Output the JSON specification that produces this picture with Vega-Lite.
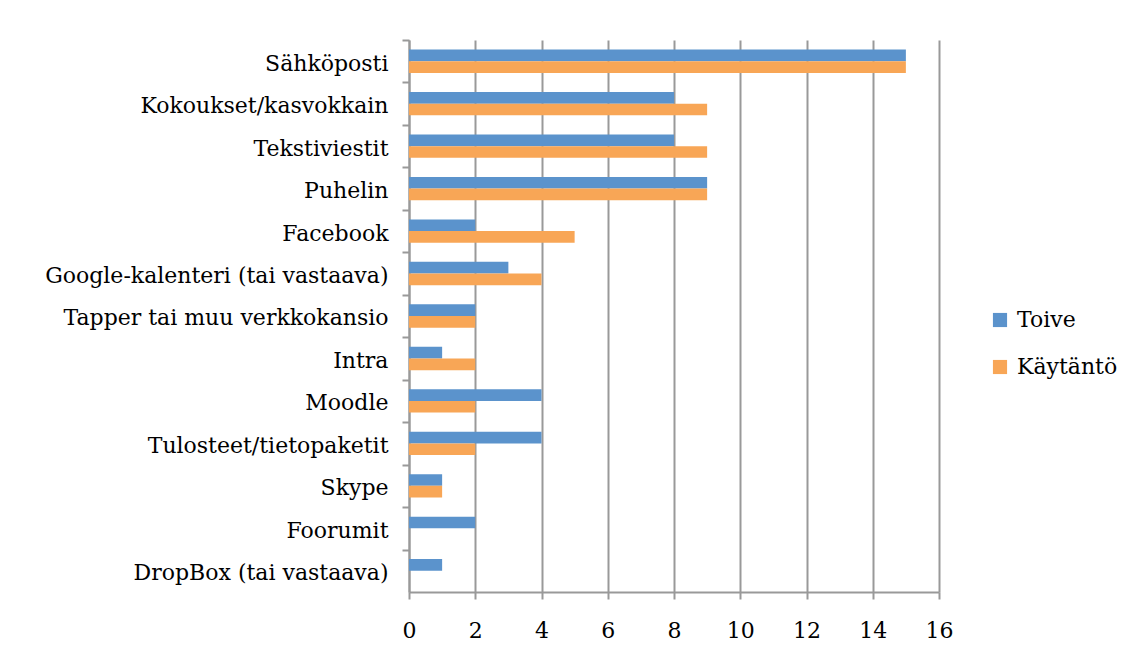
{
  "$schema": "https://vega.github.io/schema/vega-lite/v6.json",
  "width": 530,
  "height": 552,
  "autosize": "none",
  "padding": {"left": 409, "top": 40, "right": 205, "bottom": 74},
  "background": "white",
  "data": {
    "values": [
      {"kanava": "Sähköposti", "sarja": "Toive", "arvo": 15},
      {"kanava": "Sähköposti", "sarja": "Käytäntö", "arvo": 15},
      {"kanava": "Kokoukset/kasvokkain", "sarja": "Toive", "arvo": 8},
      {"kanava": "Kokoukset/kasvokkain", "sarja": "Käytäntö", "arvo": 9},
      {"kanava": "Tekstiviestit", "sarja": "Toive", "arvo": 8},
      {"kanava": "Tekstiviestit", "sarja": "Käytäntö", "arvo": 9},
      {"kanava": "Puhelin", "sarja": "Toive", "arvo": 9},
      {"kanava": "Puhelin", "sarja": "Käytäntö", "arvo": 9},
      {"kanava": "Facebook", "sarja": "Toive", "arvo": 2},
      {"kanava": "Facebook", "sarja": "Käytäntö", "arvo": 5},
      {"kanava": "Google-kalenteri (tai vastaava)", "sarja": "Toive", "arvo": 3},
      {"kanava": "Google-kalenteri (tai vastaava)", "sarja": "Käytäntö", "arvo": 4},
      {"kanava": "Tapper tai muu verkkokansio", "sarja": "Toive", "arvo": 2},
      {"kanava": "Tapper tai muu verkkokansio", "sarja": "Käytäntö", "arvo": 2},
      {"kanava": "Intra", "sarja": "Toive", "arvo": 1},
      {"kanava": "Intra", "sarja": "Käytäntö", "arvo": 2},
      {"kanava": "Moodle", "sarja": "Toive", "arvo": 4},
      {"kanava": "Moodle", "sarja": "Käytäntö", "arvo": 2},
      {"kanava": "Tulosteet/tietopaketit", "sarja": "Toive", "arvo": 4},
      {"kanava": "Tulosteet/tietopaketit", "sarja": "Käytäntö", "arvo": 2},
      {"kanava": "Skype", "sarja": "Toive", "arvo": 1},
      {"kanava": "Skype", "sarja": "Käytäntö", "arvo": 1},
      {"kanava": "Foorumit", "sarja": "Toive", "arvo": 2},
      {"kanava": "Foorumit", "sarja": "Käytäntö", "arvo": 0},
      {"kanava": "DropBox (tai vastaava)", "sarja": "Toive", "arvo": 1},
      {"kanava": "DropBox (tai vastaava)", "sarja": "Käytäntö", "arvo": 0}
    ]
  },
  "mark": {"type": "bar"},
  "encoding": {
    "y": {
      "field": "kanava",
      "type": "nominal",
      "sort": ["Sähköposti", "Kokoukset/kasvokkain", "Tekstiviestit", "Puhelin", "Facebook", "Google-kalenteri (tai vastaava)", "Tapper tai muu verkkokansio", "Intra", "Moodle", "Tulosteet/tietopaketit", "Skype", "Foorumit", "DropBox (tai vastaava)"],
      "scale": {"paddingInner": 0.45, "paddingOuter": 0.225},
      "axis": {
        "title": null,
        "tickOffset": -21.23,
        "tickSize": 7,
        "tickColor": "#999999",
        "tickWidth": 2,
        "domainColor": "#999999",
        "domainWidth": 2,
        "labelPadding": 14,
        "labelFont": "DejaVu Serif",
        "labelFontSize": 22,
        "labelColor": "black",
        "labelLimit": 400,
        "labelOffset": 23.2,
        "grid": false
      }
    },
    "yOffset": {"field": "sarja", "type": "nominal", "sort": ["Toive", "Käytäntö"]},
    "x": {
      "field": "arvo",
      "type": "quantitative",
      "scale": {"domain": [0, 16], "nice": false},
      "axis": {
        "title": null,
        "values": [0, 2, 4, 6, 8, 10, 12, 14, 16],
        "grid": true,
        "gridColor": "#999999",
        "gridWidth": 2,
        "tickSize": 7,
        "tickColor": "#999999",
        "tickWidth": 2,
        "domainColor": "#999999",
        "domainWidth": 2,
        "labelPadding": 21,
        "labelFlush": false,
        "labelFont": "DejaVu Serif",
        "labelFontSize": 22,
        "labelColor": "black"
      }
    },
    "color": {
      "field": "sarja",
      "type": "nominal",
      "scale": {"domain": ["Toive", "Käytäntö"], "range": ["#5b93cc", "#f8a656"]},
      "legend": {
        "title": null,
        "orient": "none",
        "legendX": 580,
        "legendY": 269,
        "symbolType": "square",
        "symbolSize": 200,
        "symbolStrokeWidth": 0,
        "labelFont": "DejaVu Serif",
        "labelFontSize": 22,
        "labelColor": "black",
        "rowPadding": 25,
        "labelOffset": 6
      }
    }
  },
  "config": {"view": {"stroke": null}}
}
